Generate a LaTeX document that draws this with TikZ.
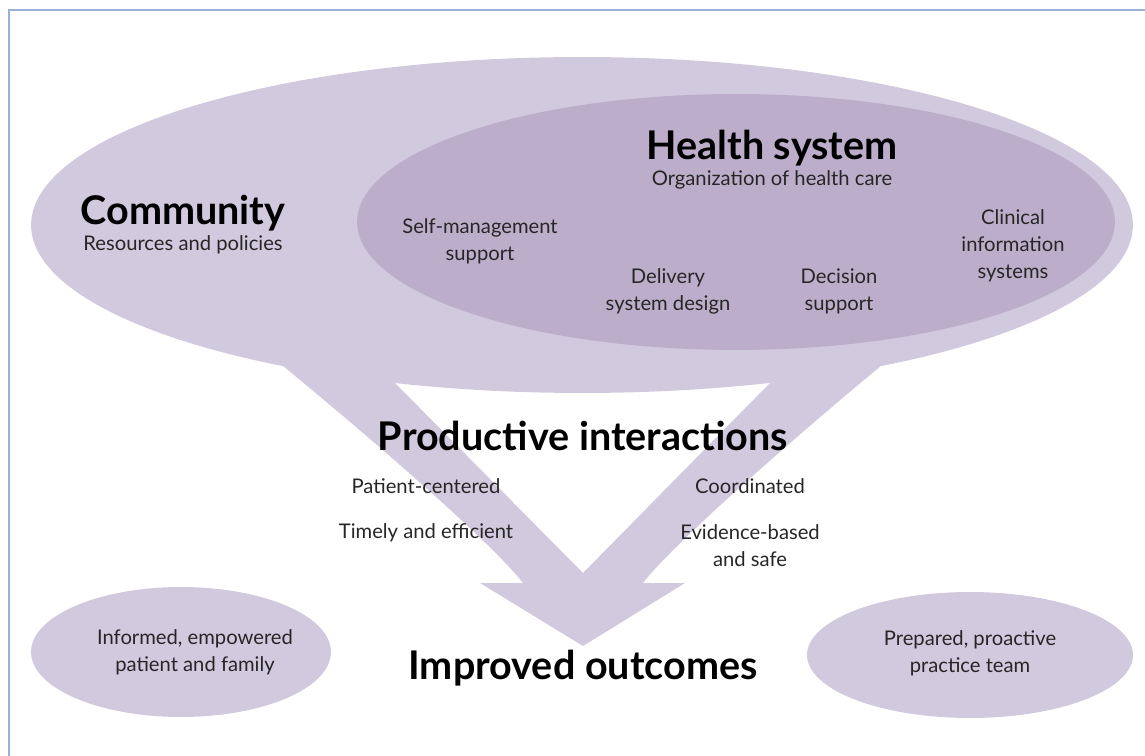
\documentclass[tikz,border=0pt]{standalone}
\usepackage{fontspec}
\setmainfont{Lato}
\usetikzlibrary{shapes.geometric,positioning,calc}

\definecolor{outerlav}{RGB}{209,201,222}
\definecolor{innerlav}{RGB}{188,174,203}
\definecolor{frameblue}{RGB}{152,176,218}

\begin{document}
\begin{tikzpicture}[x=0.02cm,y=-0.02cm,
    blob/.style={ellipse, fill=outerlav, inner sep=0pt},
    title/.style={font=\fontsize{22.5}{26}\selectfont\bfseries},
    label/.style={font=\fontsize{11.5}{15.3}\selectfont, align=center, text=black!85}]
    \useasboundingbox (0,0) rectangle (1145,756);

    %frame
    \draw[frameblue, line width=1.3pt] (9,756) -- (9,10) -- (1145,10);

    %arrow
    \fill[outerlav] (283,366) .. controls (395,458) and (497,549) .. (523,583) -- (480,583) -- (583,646)
        -- (685,583) -- (643,583) .. controls (669,549) and (770,458) .. (882,365)
        -- (770,383) -- (583,573) -- (395,383) -- cycle;

    %ellipses
    \node[blob, minimum width=22.04cm, minimum height=6.72cm] (comm) at (582,225) {};
    \node[blob, fill=innerlav, minimum width=15.16cm, minimum height=5.12cm] (hs) at (736,222) {};
    \node[blob, minimum width=6cm, minimum height=2.6cm] (pat) at (181,652) {};
    \node[blob, minimum width=6.52cm, minimum height=2.52cm] (team) at (970,655) {};

    %texts
    \node[title] (community) at (183,213) {Community};
    \node[label] (resources) at (183,245) {Resources and policies};
    \node[title] (health) at (772,148) {Health system};
    \node[label] (organization) at (772,180) {Organization of health care};
    \node[label] (selfmgmt) at (480,241) {Self-management\\support};
    \node[label] (delivery) at (668,291) {Delivery\\system design};
    \node[label] (decision) at (839,291) {Decision\\support};
    \node[label] (clinical) at (1013,246) {Clinical\\information\\systems};

    \node[title] (productive) at (583,436) {Productive interactions};
    \node[label] (patient) at (426,486) {Patient-centered};
    \node[label] (timely) at (426,533) {Timely and efficient};
    \node[label] (coordinated) at (750,486) {Coordinated};
    \node[label] (evidence) at (750,546) {Evidence-based\\and safe};

    \node[label] (informed) at ($(pat)+(14,0)$) {Informed, empowered\\patient and family};
    \node[label] (prepared) at ($(team)+(0,-2)$) {Prepared, proactive\\practice team};
    \node[title] (improved) at (583,668) {Improved outcomes};
\end{tikzpicture}
\end{document}
